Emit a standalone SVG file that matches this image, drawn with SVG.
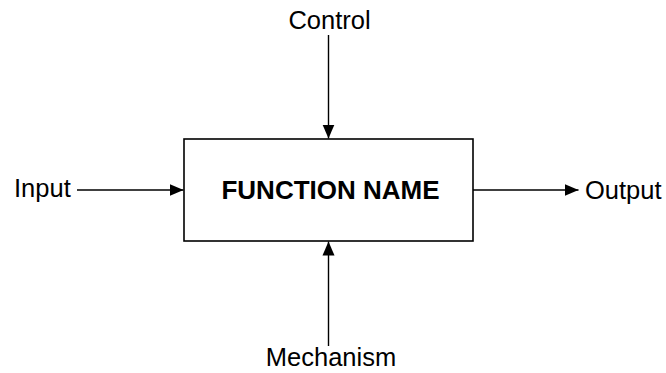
<svg xmlns="http://www.w3.org/2000/svg" width="666" height="373" viewBox="0 0 666 373">
<style>
.lbl{font-family:"Liberation Sans",Arial,sans-serif;font-size:25.5px;fill:#000}
.title{font-family:"Liberation Sans",Arial,sans-serif;font-size:26px;font-weight:bold;fill:#000}
.conn{stroke:#000;stroke-width:1.4;fill:none;marker-end:url(#ah)}
</style>
<defs>
<marker id="ah" markerUnits="userSpaceOnUse" markerWidth="15" markerHeight="13" refX="14" refY="6.5" orient="auto" viewBox="0 0 15 13">
<path d="M0,0.5 L14,6.5 L0,12.5 z" fill="#000"/>
</marker>
</defs>
<rect width="666" height="373" fill="#fff"/>
<g id="function">
<rect x="184" y="139" width="289" height="102" fill="#fff" stroke="#000" stroke-width="1.6"/>
<text class="title" x="330.5" y="199" text-anchor="middle">FUNCTION NAME</text>
</g>
<g id="control"><text class="lbl" x="329.5" y="29" text-anchor="middle">Control</text></g>
<g id="input"><text class="lbl" x="14" y="197">Input</text></g>
<g id="output"><text class="lbl" x="585" y="199">Output</text></g>
<g id="mechanism"><text class="lbl" x="331" y="366" text-anchor="middle">Mechanism</text></g>
<g id="connectors">
<line class="conn" x1="328.5" y1="35" x2="328.5" y2="138.5"/>
<line class="conn" x1="77" y1="190" x2="183.5" y2="190"/>
<line class="conn" x1="473" y1="190" x2="578.5" y2="190"/>
<line class="conn" x1="328.5" y1="346" x2="328.5" y2="241.5"/>
</g>
</svg>
